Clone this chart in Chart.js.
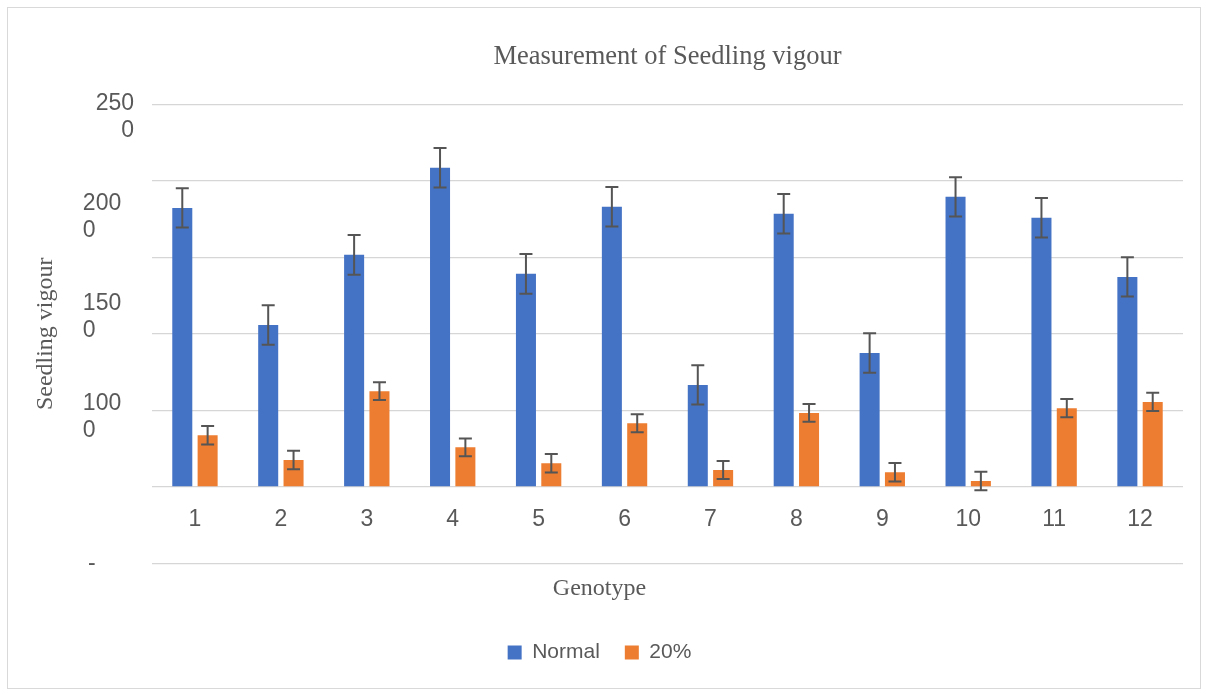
<!DOCTYPE html>
<html>
<head>
<meta charset="utf-8">
<script src="https://cdn.jsdelivr.net/npm/chart.js@4/dist/chart.umd.min.js"></script>
<style>
html, body { margin: 0; padding: 0; background: #ffffff; }
#wrap { position: relative; width: 1205px; height: 691px; overflow: hidden; }
#c { position: absolute; left: 0; top: 0; }
#frame { position: absolute; left: 7px; top: 7px; width: 1192px; height: 680px; border: 1px solid #d9d9d9; pointer-events: none; }
</style>
</head>
<body>
<div id="wrap">
  <canvas id="c" width="1205" height="691"></canvas>
  <div id="frame"></div>
</div>
<script>
// ---- data ----
const categories = ['1', '2', '3', '4', '5', '6', '7', '8', '9', '10', '11', '12'];
const normalValues = [2323, 1558, 2016, 2585, 1892, 2330, 1166, 2284, 1375, 2395, 2258, 1872];
const normalErrors = [129, 129, 130, 129, 130, 129, 128, 129, 129, 129, 129, 128];
const stressValues = [837, 675, 1125, 758, 654, 915, 610, 983, 595, 538, 1014, 1055];
const stressErrors = [60, 60, 58, 58, 60, 59, 59, 58, 60, 60, 60, 59];
const seriesNames = ['Normal', '20%'];
const barBase = 500;              // value where the category axis crosses
const yMin = 0, yMax = 3000, yStep = 500;
// tick labels as they appear (wrapped) on the value axis
const yTickValues = [2500, 2000, 1500, 1000, 267];
const yTickLabels = [['250', '0'], ['200', '0'], ['150', '0'], ['100', '0'], '-'];

const TEXT = '#595959';
const SANS = 'Liberation Sans';
const SERIF = 'Liberation Serif';

const errorBars = {
  id: 'errorBars',
  afterDatasetsDraw(chart) {
    const ctx = chart.ctx;
    const ys = chart.scales.y;
    chart.data.datasets.forEach((ds, di) => {
      const meta = chart.getDatasetMeta(di);
      if (meta.hidden || !ds.errors) return;
      meta.data.forEach((bar, i) => {
        const v = ds.data[i], e = ds.errors[i];
        const yTop = ys.getPixelForValue(v + e);
        const yBot = ys.getPixelForValue(v - e);
        const x = bar.x, hw = 6.5;
        ctx.save();
        ctx.strokeStyle = '#555555';
        ctx.lineWidth = 2;
        ctx.beginPath();
        ctx.moveTo(x, yTop); ctx.lineTo(x, yBot);
        ctx.moveTo(x - hw, yTop); ctx.lineTo(x + hw, yTop);
        ctx.moveTo(x - hw, yBot); ctx.lineTo(x + hw, yBot);
        ctx.stroke();
        ctx.restore();
      });
    });
  }
};

// label padding so wrapped lines sit as in the reference
function padLabel(lbl, idx) {
  if (idx === 0) return lbl;
  if (Array.isArray(lbl)) return [lbl[0] + '  ', lbl[1] + '      '];
  return lbl + '      ';
}

new Chart(document.getElementById('c'), {
  type: 'bar',
  data: {
    labels: categories,
    datasets: [
      { label: seriesNames[0], data: normalValues, errors: normalErrors, backgroundColor: '#4472C4', borderWidth: 0, base: barBase, yAxisID: 'y' },
      { label: seriesNames[1], data: stressValues, errors: stressErrors, backgroundColor: '#ED7D31', borderWidth: 0, base: barBase, yAxisID: 'y' }
    ]
  },
  options: {
    responsive: false,
    animation: false,
    events: [],
    layout: { padding: { left: 16, right: 22, top: 0, bottom: 18 } },
    datasets: { bar: { categoryPercentage: 0.59, barPercentage: 0.79 } },
    scales: {
      x: {
        type: 'category',
        position: { y: barBase },
        grid: { display: false, drawTicks: false },
        border: { display: false },
        ticks: { padding: 19, color: TEXT, font: { family: SANS, size: 23 } }
      },
      y: {
        type: 'linear',
        position: 'left',
        min: yMin, max: yMax,
        ticks: { display: false, stepSize: yStep },
        grid: { color: '#d6d6d6', lineWidth: 1.2, drawTicks: false },
        border: { display: false },
        afterFit(s) { s.width = 0; }
      },
      yl: {
        type: 'linear',
        position: 'left',
        min: 267, max: 2566,
        afterBuildTicks(s) { s.ticks = yTickValues.map(v => ({ value: v })); },
        grid: { display: false, drawTicks: false },
        border: { display: false },
        ticks: {
          autoSkip: false,
          crossAlign: 'near',
          padding: 18,
          color: TEXT,
          font: { family: SANS, size: 23, lineHeight: 1.17 },
          callback(value) {
            const idx = yTickValues.indexOf(value);
            return idx < 0 ? '' : padLabel(yTickLabels[idx], idx);
          }
        },
        title: {
          display: true, text: 'Seedling vigour', color: TEXT,
          font: { family: SERIF, size: 24, lineHeight: 1.2 },
          padding: { top: 15, bottom: 0 }
        },
        afterFit(s) { s.width = 136; }
      }
    },
    plugins: {
      title: {
        display: true, text: 'Measurement of Seedling vigour', position: 'top', fullSize: false,
        color: TEXT, font: { family: SERIF, size: 26.5, weight: 'normal', lineHeight: 1.2 },
        padding: { top: 41, bottom: 31.5 }
      },
      subtitle: {
        display: true, text: 'Genotype', position: 'bottom', weight: 500,
        color: TEXT, font: { family: SERIF, size: 24, weight: 'normal', lineHeight: 1.2 },
        padding: { top: 10.8, bottom: 14.1 }
      },
      legend: {
        display: true, position: 'bottom',
        labels: { boxWidth: 14, boxHeight: 14, padding: 25, color: TEXT, font: { family: SANS, size: 21 } }
      },
      tooltip: { enabled: false }
    }
  },
  plugins: [errorBars]
});
</script>
</body>
</html>
